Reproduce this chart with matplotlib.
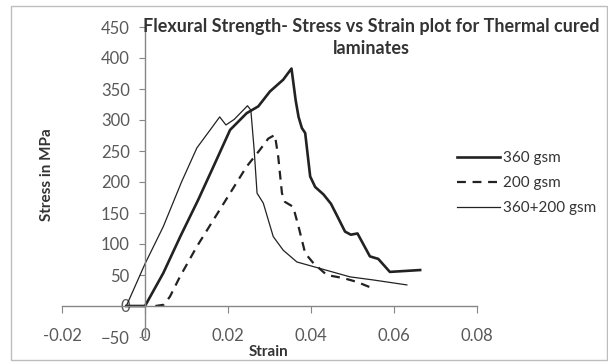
import matplotlib
matplotlib.use("Agg")
from matplotlib import pyplot as plt
from matplotlib.patches import Rectangle
import numpy as np

plt.rcParams['font.family'] = ['Lato', 'DejaVu Sans']

# 360 gsm (gruba linia)
strain_360 = [-0.0045, 0.0, 0.0044, 0.0085, 0.0128, 0.0165, 0.0205, 0.0245, 0.0273, 0.0301,
              0.0333, 0.0353, 0.0363, 0.0370, 0.0378, 0.0386, 0.0398, 0.0410, 0.0430, 0.0448,
              0.0464, 0.0482, 0.0496, 0.0512, 0.0542, 0.0562, 0.0590, 0.0663]
stress_360 = [0, 0, 53, 112, 171, 225, 284, 311, 322, 346,
              365, 383, 332, 305, 287, 279, 209, 192, 180, 165,
              144, 120, 115, 117, 80, 76, 55, 58]

# 200 gsm (przerywana)
strain_200 = [0.0025, 0.0045, 0.0060, 0.0084, 0.0125, 0.0165, 0.0205, 0.0245, 0.0277, 0.0297,
              0.0313, 0.0321, 0.0330, 0.0337, 0.0357, 0.0370, 0.0386, 0.0406, 0.0438, 0.0478,
              0.0510, 0.0547]
stress_200 = [0, 2, 15, 47, 96, 139, 182, 225, 252, 270,
              276, 241, 182, 168, 160, 128, 85, 69, 50, 45,
              39, 29]

# 360+200 gsm (cienka)
strain_mix = [-0.0045, 0.0, 0.0044, 0.0088, 0.0125, 0.0157, 0.0180, 0.0195, 0.0215, 0.0247,
              0.0255, 0.0263, 0.0270, 0.0285, 0.0309, 0.0333, 0.0366, 0.0414, 0.0494, 0.0550,
              0.0631]
stress_mix = [0, 68, 128, 200, 255, 284, 305, 292, 301, 323,
              316, 252, 182, 166, 112, 90, 71, 62, 47, 42,
              34]

labels = ['360 gsm', '200 gsm', '360+200 gsm']
xticks = [-0.02, 0, 0.02, 0.04, 0.06, 0.08]
xticklabels = ['-0.02', '0', '0.02', '0.04', '0.06', '0.08']
yticks = np.arange(-50, 451, 50)

grey = '#595959'
axis_col = '#868686'
ink = '#222222'

fig = plt.figure(figsize=(6.08, 3.62), dpi=100)
fig.patches.append(Rectangle((11 / 608, 2 / 362), 596 / 608, 354 / 362, transform=fig.transFigure,
                             fill=False, edgecolor='#bdbdbd', linewidth=1.0))

ax = fig.add_axes([62 / 608, 1 - 337 / 362, 415 / 608, 310 / 362])
ax.plot(strain_360, stress_360, color=ink, linewidth=1.9, label=labels[0])
ax.plot(strain_200, stress_200, color=ink, linewidth=1.6, linestyle=(0, (4, 3)), label=labels[1])
ax.plot(strain_mix, stress_mix, color=ink, linewidth=0.9, label=labels[2])

ax.set_xlim(-0.02, 0.08)
ax.set_ylim(-50, 450)
ax.set_xticks(xticks)
ax.set_xticklabels(xticklabels)
ax.set_yticks(yticks)

ax.spines['top'].set_visible(False)
ax.spines['right'].set_visible(False)
ax.spines['left'].set_position(('data', 0))
ax.spines['bottom'].set_position(('data', 0))
for s in ['left', 'bottom']:
    ax.spines[s].set_color(axis_col)
    ax.spines[s].set_linewidth(1.0)

ax.tick_params(axis='x', direction='out', length=5, color=axis_col, labelcolor=grey,
               labelsize=12, pad=11)
ax.tick_params(axis='y', direction='out', length=4, color=axis_col, labelcolor=grey,
               labelsize=12, pad=7)

fig.text(371 / 608, 1 - 37.5 / 362, 'Flexural Strength- Stress vs Strain plot for Thermal cured\nlaminates',
         ha='center', va='center', fontsize=13, fontweight='bold', color='#333333',
         linespacing=1.4)
fig.text(47 / 608, 1 - 175 / 362, 'Stress in MPa', rotation=90, ha='center', va='center',
         fontsize=11, fontweight='bold', color='#333333')
fig.text(269 / 608, 1 - 352 / 362, 'Strain', ha='center', va='center',
         fontsize=11, fontweight='bold', color='#333333')

leg = ax.legend(loc='upper left', frameon=False, fontsize=11, handlelength=2.8,
                handletextpad=0.2, labelspacing=0.72, borderaxespad=0)
leg.set_bbox_to_anchor((451 / 608, 1 - 145 / 362), transform=fig.transFigure)
for t in leg.get_texts():
    t.set_color('#333333')

fig.savefig('out.png', dpi=100)
